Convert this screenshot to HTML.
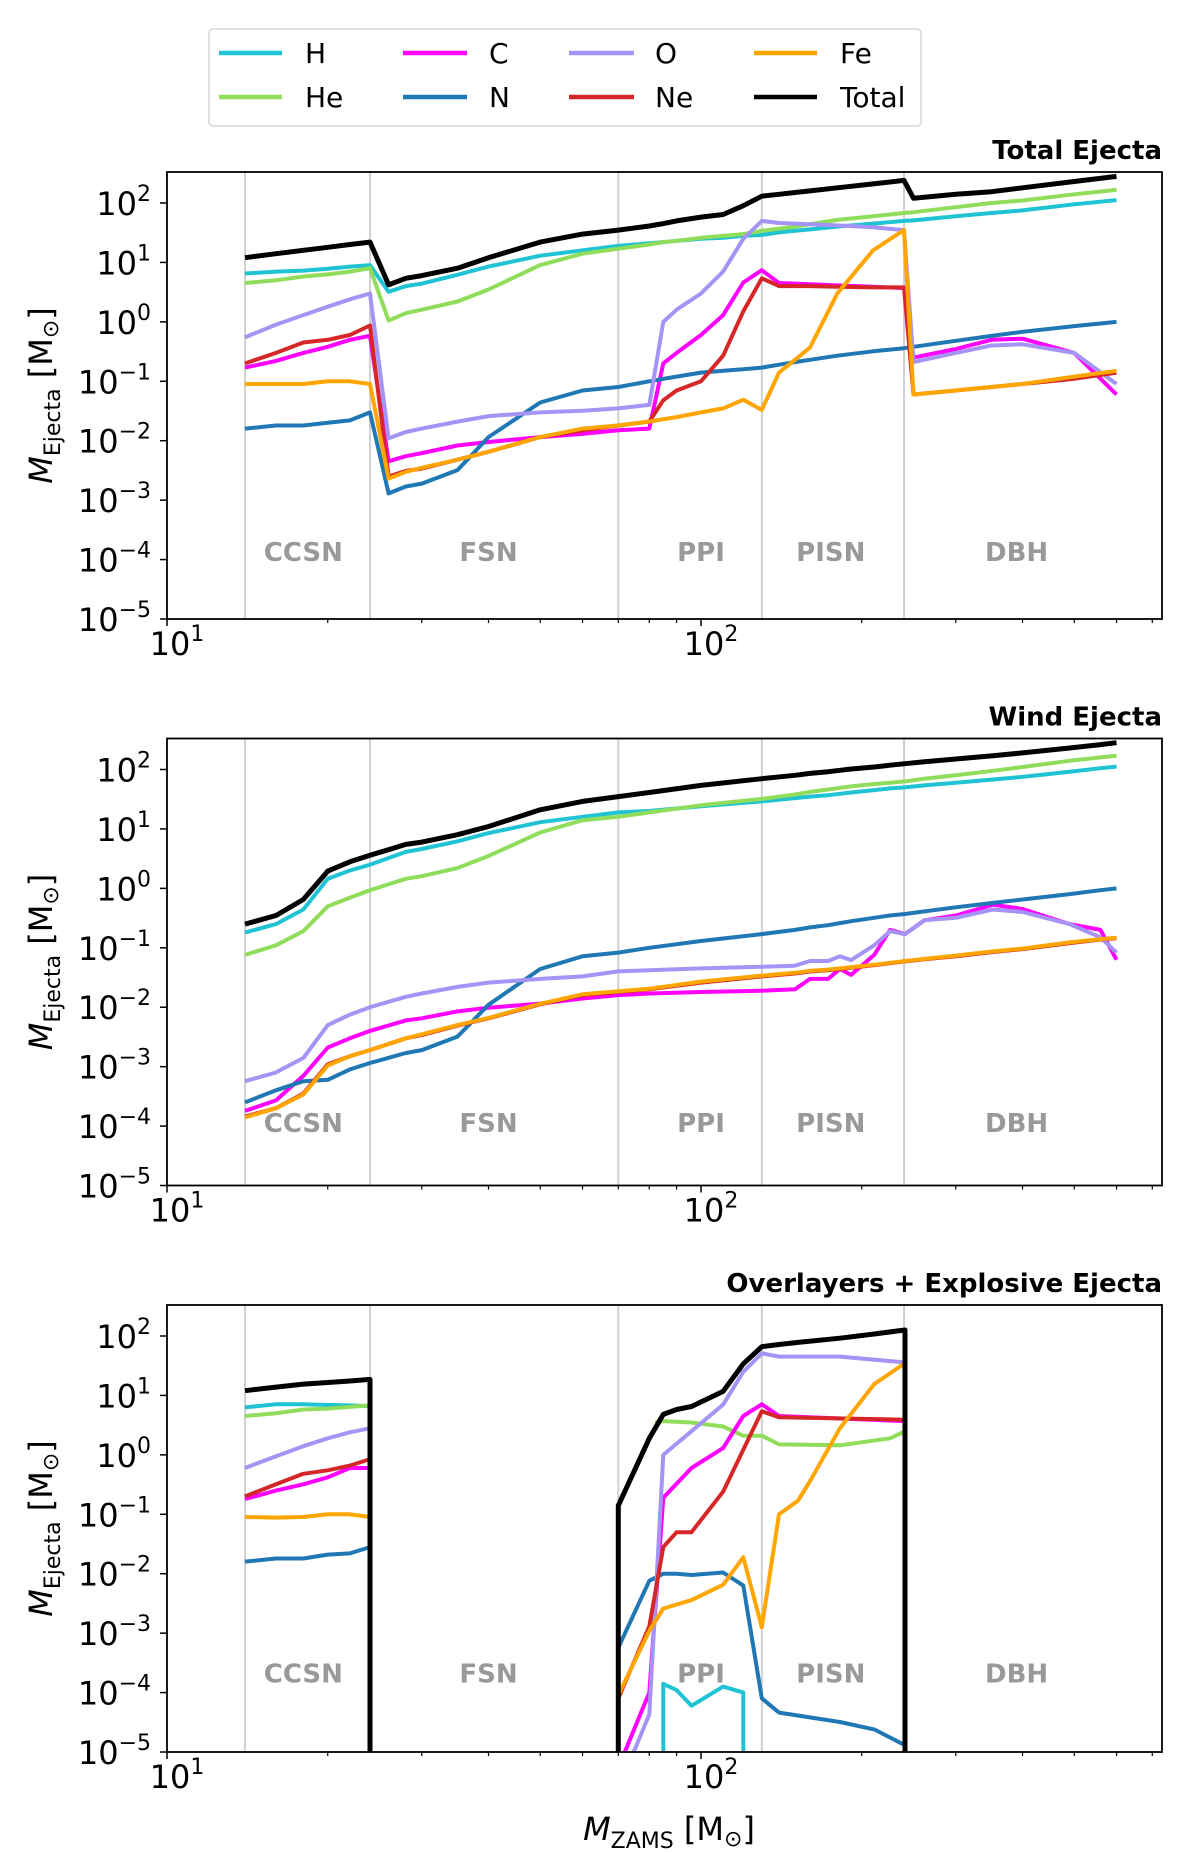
<!DOCTYPE html>
<html><head><meta charset="utf-8">
<style>
html,body{margin:0;padding:0;background:#fff;}
svg{display:block;font-family:"DejaVu Sans","Liberation Sans",sans-serif;}
</style></head>
<body>
<svg id="chart" width="1200" height="1853" viewBox="0 0 1200 1853" xmlns="http://www.w3.org/2000/svg">
<g>
<rect x="209" y="29" width="712" height="97" rx="4" fill="#fff" stroke="#d6d6d6" stroke-width="1.5"/>
<line x1="219" y1="53" x2="282" y2="53" stroke="#1fc3d3" stroke-width="4.5"/><text x="305" y="63" font-size="28">H</text>
<line x1="219" y1="97" x2="282" y2="97" stroke="#90dd5b" stroke-width="4.5"/><text x="305" y="107" font-size="28">He</text>
<line x1="403" y1="53" x2="467" y2="53" stroke="#ff00ff" stroke-width="4.5"/><text x="489" y="63" font-size="28">C</text>
<line x1="403" y1="97" x2="467" y2="97" stroke="#1f77b4" stroke-width="4.5"/><text x="489" y="107" font-size="28">N</text>
<line x1="569" y1="53" x2="634" y2="53" stroke="#a593f5" stroke-width="4.5"/><text x="655" y="63" font-size="28">O</text>
<line x1="569" y1="97" x2="634" y2="97" stroke="#d62728" stroke-width="4.5"/><text x="655" y="107" font-size="28">Ne</text>
<line x1="754" y1="53" x2="817" y2="53" stroke="#ffa500" stroke-width="4.5"/><text x="840" y="63" font-size="28">Fe</text>
<line x1="754" y1="97" x2="817" y2="97" stroke="#000" stroke-width="4.5"/><text x="840" y="107" font-size="28">Total</text>
</g>
<text x="669" y="1840" font-size="32" text-anchor="middle"><tspan font-style="italic">M</tspan><tspan font-size="22" dy="8">ZAMS</tspan><tspan dy="-8"> [M</tspan><tspan font-size="22" dy="6">⊙</tspan><tspan dy="-6">]</tspan></text>
</svg>
<script>
// ---- shared data ----
const speciesNames = ["H","He","C","N","O","Ne","Fe","Total"];
const speciesColors = ["#1fc3d3","#90dd5b","#ff00ff","#1f77b4","#a593f5","#d62728","#ffa500","#000000"];
const regionLabels = ["CCSN","FSN","PPI","PISN","DBH"];
const regionCenters = [18,40,100,175,390];
const regionBounds = [14,24,70,130,240];
const yTickExps = [-5,-4,-3,-2,-1,0,1,2];
const xMajorTicks = [10,100];
const xMinorTicks = [20,30,40,50,60,70,80,90,200,300,400,500,600,700];

// ---- panel 1: total ejecta ----
const totalMass = [14,16,18,20,22,24,26,28,30,35,40,50,60,70,80,85,90,100,110,120,130,140,150,160,180,210,240,250,300,350,400,500,600];
const totalH = [6.5,7,7.3,7.8,8.5,9,3.2,4,4.4,6.2,8.5,13,16,19,21,22,23,25,26,28,29,32,34,36,40,45,50,51,60,68,75,95,112];
const totalHe = [4.5,5,5.8,6.3,7,8,1.05,1.4,1.6,2.2,3.5,9,14,17,20,22,23,26,28,30,34,37,40,44,52,60,68,70,85,100,110,140,166];
const totalC = [0.17,0.22,0.3,0.38,0.5,0.58,0.0045,0.0055,0.0062,0.0083,0.0095,0.0115,0.013,0.015,0.016,0.2,0.3,0.6,1.3,4.6,7.4,4.5,4.4,4.3,4.1,3.9,3.7,0.25,0.35,0.5,0.52,0.3,0.06];
const totalN = [0.016,0.018,0.018,0.02,0.022,0.03,0.0013,0.0017,0.0019,0.0032,0.0115,0.044,0.07,0.08,0.1,0.11,0.12,0.14,0.15,0.16,0.17,0.19,0.21,0.23,0.27,0.32,0.36,0.38,0.48,0.58,0.68,0.85,1.0];
const totalO = [0.55,0.9,1.3,1.8,2.4,3,0.011,0.014,0.016,0.021,0.026,0.03,0.032,0.035,0.04,1.0,1.6,3,7,25,50,46,45,44,42,39,35,0.21,0.3,0.4,0.42,0.3,0.09];
const totalNe = [0.2,0.3,0.45,0.5,0.6,0.87,0.0025,0.0031,0.0034,0.0048,0.0065,0.0115,0.015,0.018,0.021,0.048,0.07,0.1,0.27,1.5,5.4,4,4,4,3.9,3.8,3.8,0.06,0.07,0.08,0.09,0.11,0.14];
const totalFe = [0.09,0.09,0.09,0.1,0.1,0.09,0.0023,0.003,0.0035,0.0048,0.0065,0.0115,0.016,0.018,0.021,0.023,0.025,0.03,0.035,0.049,0.033,0.14,0.23,0.37,3,16,35,0.06,0.07,0.08,0.09,0.12,0.15];
const totalTot = [12,14,16,18,20,22,4.2,5.4,6,8,12,22,30,35,41,45,50,58,64,90,130,140,150,160,180,210,240,120,140,155,180,230,280];

// ---- panel 2: wind ejecta ----
const windMass = [14,16,18,20,22,24,28,30,35,40,50,60,70,80,100,130,150,160,173,182,191,211,226,241,262,300,352,400,490,560,600];
const windH = [0.18,0.25,0.44,1.45,2,2.5,4.1,4.6,6.2,8.5,13,16,19,20,24,29,33,35,37,39,41,45,48,50,54,60,68,75,92,105,112];
const windHe = [0.076,0.11,0.19,0.5,0.7,0.93,1.45,1.6,2.2,3.5,8.7,14,16,19,25,32,38,42,46,49,52,57,60,63,70,80,95,110,140,160,170];
const windC = [0.00018,0.00027,0.0007,0.0021,0.003,0.004,0.006,0.0065,0.0085,0.0098,0.0115,0.014,0.016,0.017,0.018,0.019,0.02,0.03,0.03,0.044,0.035,0.076,0.2,0.17,0.29,0.35,0.53,0.45,0.25,0.2,0.063];
const windN = [0.00025,0.0004,0.00057,0.0006,0.0009,0.00115,0.0017,0.0019,0.0032,0.011,0.044,0.072,0.083,0.1,0.13,0.17,0.2,0.22,0.24,0.26,0.28,0.32,0.35,0.37,0.41,0.48,0.57,0.65,0.8,0.93,1.0];
const windO = [0.00057,0.0008,0.0014,0.005,0.0075,0.01,0.015,0.017,0.022,0.026,0.03,0.033,0.04,0.042,0.045,0.048,0.05,0.06,0.06,0.072,0.062,0.11,0.19,0.17,0.29,0.32,0.44,0.4,0.25,0.15,0.083];
const windNe = [0.000145,0.0002,0.00035,0.0011,0.0015,0.0019,0.003,0.0034,0.0049,0.0065,0.0112,0.016,0.018,0.02,0.026,0.033,0.037,0.04,0.042,0.044,0.046,0.051,0.055,0.059,0.064,0.072,0.085,0.095,0.12,0.138,0.145];
const windFe = [0.00014,0.0002,0.00034,0.00105,0.0015,0.0019,0.003,0.0035,0.005,0.0066,0.0114,0.0165,0.0185,0.0205,0.027,0.034,0.038,0.041,0.043,0.045,0.047,0.052,0.056,0.06,0.065,0.074,0.087,0.097,0.123,0.14,0.148];
const windTot = [0.25,0.35,0.65,1.95,2.8,3.6,5.5,6,8,11,21,29,35,41,54,70,80,86,92,97,102,110,118,125,135,150,170,190,230,262,282];

// ---- panel 3: overlayers + explosive ejecta (1e-7 marks points off the bottom of the axis) ----
const expCcsnMass = [14,16,18,20,22,24];
const expCcsnH = [6.3,7.1,7.1,6.9,6.8,6.6];
const expCcsnHe = [4.5,5,5.8,6,6.4,6.8];
const expCcsnC = [0.18,0.25,0.32,0.42,0.6,0.6];
const expCcsnN = [0.016,0.018,0.018,0.021,0.022,0.028];
const expCcsnO = [0.6,0.95,1.4,1.9,2.4,2.8];
const expCcsnNe = [0.2,0.32,0.48,0.55,0.66,0.85];
const expCcsnFe = [0.09,0.088,0.09,0.1,0.1,0.09];
const expCcsnTotMass = [14,16,18,20,22,24,24];
const expCcsnTot = [12,13.8,15.5,16.5,17.5,18.6,1e-7];
const expHMass = [85,85,90,96,110,120,120];
const expH = [1e-7,0.00014,0.00011,0.00006,0.000126,0.0001,1e-7];
const expHeMass = [82,85,96,110,120,130,140,182,226,241];
const expHe = [3.5,3.7,3.5,3,2.1,2.1,1.5,1.45,1.9,2.5];
const expOMass = [74.8,80,85,96,110,120,130,140,182,241];
const expO = [1e-5,4.3e-5,1.0,2.5,7,25,51,45,45,36];
const expCMass = [72,80,85,96,110,120,130,140,241];
const expC = [1e-5,0.0001,0.19,0.6,1.3,4.5,7.1,4.5,3.7];
const expNeMass = [70,80,85,90,96,110,130,140,241];
const expNe = [8e-5,0.0013,0.028,0.05,0.05,0.24,5.4,4.3,3.9];
const expFeMass = [70,80,85,96,110,120,130,140,152,160,182,211,241];
const expFe = [9e-5,0.0011,0.0026,0.0036,0.0065,0.019,0.00126,0.1,0.17,0.36,2.8,15.5,35];
const expNMass = [70,80,85,90,96,110,120,130,140,182,211,241];
const expN = [0.00057,0.0076,0.01,0.01,0.0095,0.0105,0.0063,8e-5,4.6e-5,3.2e-5,2.4e-5,1.3e-5];
const expTotMass = [70,70,80,85,90,96,110,120,130,140,152,182,211,241,241];
const expTot = [1e-7,0.14,1.9,4.8,5.8,6.5,11.7,34,66,72,78,92,108,126,1e-7];

const NS = "http://www.w3.org/2000/svg";
const svg = document.getElementById("chart");
const PL = 167, PR = 1162, PH = 447, DEC_X = 534, DEC_Y = 59.43;
function xScale(m){ return PL + (Math.log10(m) - 1) * DEC_X; }
function yScale(v, top){ return top + 31 + (2 - Math.log10(v)) * DEC_Y; }
function mk(tag, attrs, parent){
  const e = document.createElementNS(NS, tag);
  for (const k in attrs) e.setAttribute(k, attrs[k]);
  (parent || svg).appendChild(e);
  return e;
}

function drawPanel(idx, top, title, labelLog, seriesList){
  const g = mk("g", {});
  
  
  const cp = mk("clipPath", {id: "clip" + idx}, g);
  mk("rect", {x: PL, y: top, width: PR - PL, height: PH}, cp);
  regionBounds.forEach(b => {
    const l = mk("line", {x1: xScale(b), x2: xScale(b), y1: top, y2: top + PH, stroke: "#d0d0d0", "stroke-width": 2}, g);
    
    
  });
  regionLabels.forEach((r, i) => {
    const t = mk("text", {x: xScale(regionCenters[i]), y: yScale(Math.pow(10, labelLog), top) + 9, "text-anchor": "middle", "font-size": 26, "font-weight": "bold", fill: "#999"}, g);
    t.textContent = r;
    
    
  });
  const lg = mk("g", {"clip-path": "url(#clip" + idx + ")"}, g);
  seriesList.forEach(s => {
    const pts = s.x.map((m, i) => xScale(m).toFixed(1) + "," + yScale(s.y[i], top).toFixed(1)).join(" ");
    const p = mk("polyline", {points: pts, fill: "none", stroke: speciesColors[s.k], "stroke-width": s.k === 7 ? 5 : 4, "stroke-linejoin": "round"}, lg);
    
    
  });
  const fr = mk("rect", {x: PL, y: top, width: PR - PL, height: PH, fill: "none", stroke: "#000", "stroke-width": 1.8}, g);
  
  
  yTickExps.forEach(e => {
    const y = yScale(Math.pow(10, e), top);
    mk("line", {x1: PL - 7, x2: PL, y1: y, y2: y, stroke: "#000", "stroke-width": 1.5}, g);
    const t = mk("text", {x: 151, y: y + 12, "text-anchor": "end", "font-size": 32}, g);
    
    
    const a = document.createElementNS(NS, "tspan"); a.textContent = "10"; t.appendChild(a);
    const b = document.createElementNS(NS, "tspan"); b.setAttribute("font-size", 22); b.setAttribute("dy", -14);
    b.textContent = e < 0 ? "\u2212" + (-e) : String(e); t.appendChild(b);
  });
  xMinorTicks.forEach(m => {
    const x = xScale(m);
    mk("line", {x1: x, x2: x, y1: top + PH, y2: top + PH + 4, stroke: "#000", "stroke-width": 1.2}, g);
  });
  xMajorTicks.forEach((m, i) => {
    const x = xScale(m);
    mk("line", {x1: x, x2: x, y1: top + PH, y2: top + PH + 7, stroke: "#000", "stroke-width": 1.5}, g);
    const t = mk("text", {x: x + 10, y: top + PH + 36, "text-anchor": "middle", "font-size": 32}, g);
    
    
    const a = document.createElementNS(NS, "tspan"); a.textContent = "10"; t.appendChild(a);
    const b = document.createElementNS(NS, "tspan"); b.setAttribute("font-size", 22); b.setAttribute("dy", -14);
    b.textContent = String(i + 1); t.appendChild(b);
  });
  const tt = mk("text", {x: PR, y: top - 13, "text-anchor": "end", "font-size": 26, "font-weight": "bold"}, g);
  tt.textContent = title;
  
  
  const cy = top + PH / 2;
  const yl = mk("text", {x: 0, y: 0, "font-size": 32, "text-anchor": "middle", transform: "translate(52," + cy + ") rotate(-90)"}, g);
  
  
  yl.innerHTML = '<tspan font-style="italic">M</tspan><tspan font-size="22" dy="8">Ejecta</tspan><tspan dy="-8"> [M</tspan><tspan font-size="22" dy="6">\u2299</tspan><tspan dy="-6">]</tspan>';
}

drawPanel(1, 172, "Total Ejecta", -3.87, [
  {k:0, x: totalMass, y: totalH}, {k:1, x: totalMass, y: totalHe}, {k:2, x: totalMass, y: totalC},
  {k:3, x: totalMass, y: totalN}, {k:4, x: totalMass, y: totalO}, {k:5, x: totalMass, y: totalNe},
  {k:6, x: totalMass, y: totalFe}, {k:7, x: totalMass, y: totalTot}
]);
drawPanel(2, 738.5, "Wind Ejecta", -3.95, [
  {k:0, x: windMass, y: windH}, {k:1, x: windMass, y: windHe}, {k:2, x: windMass, y: windC},
  {k:3, x: windMass, y: windN}, {k:4, x: windMass, y: windO}, {k:5, x: windMass, y: windNe},
  {k:6, x: windMass, y: windFe}, {k:7, x: windMass, y: windTot}
]);
drawPanel(3, 1305, "Overlayers + Explosive Ejecta", -3.68, [
  {k:0, x: expCcsnMass, y: expCcsnH}, {k:1, x: expCcsnMass, y: expCcsnHe}, {k:2, x: expCcsnMass, y: expCcsnC},
  {k:3, x: expCcsnMass, y: expCcsnN}, {k:4, x: expCcsnMass, y: expCcsnO}, {k:5, x: expCcsnMass, y: expCcsnNe},
  {k:6, x: expCcsnMass, y: expCcsnFe}, {k:7, x: expCcsnTotMass, y: expCcsnTot},
  {k:0, x: expHMass, y: expH}, {k:1, x: expHeMass, y: expHe}, {k:2, x: expCMass, y: expC},
  {k:3, x: expNMass, y: expN}, {k:4, x: expOMass, y: expO}, {k:5, x: expNeMass, y: expNe},
  {k:6, x: expFeMass, y: expFe}, {k:7, x: expTotMass, y: expTot}
]);
</script>
</body></html>
